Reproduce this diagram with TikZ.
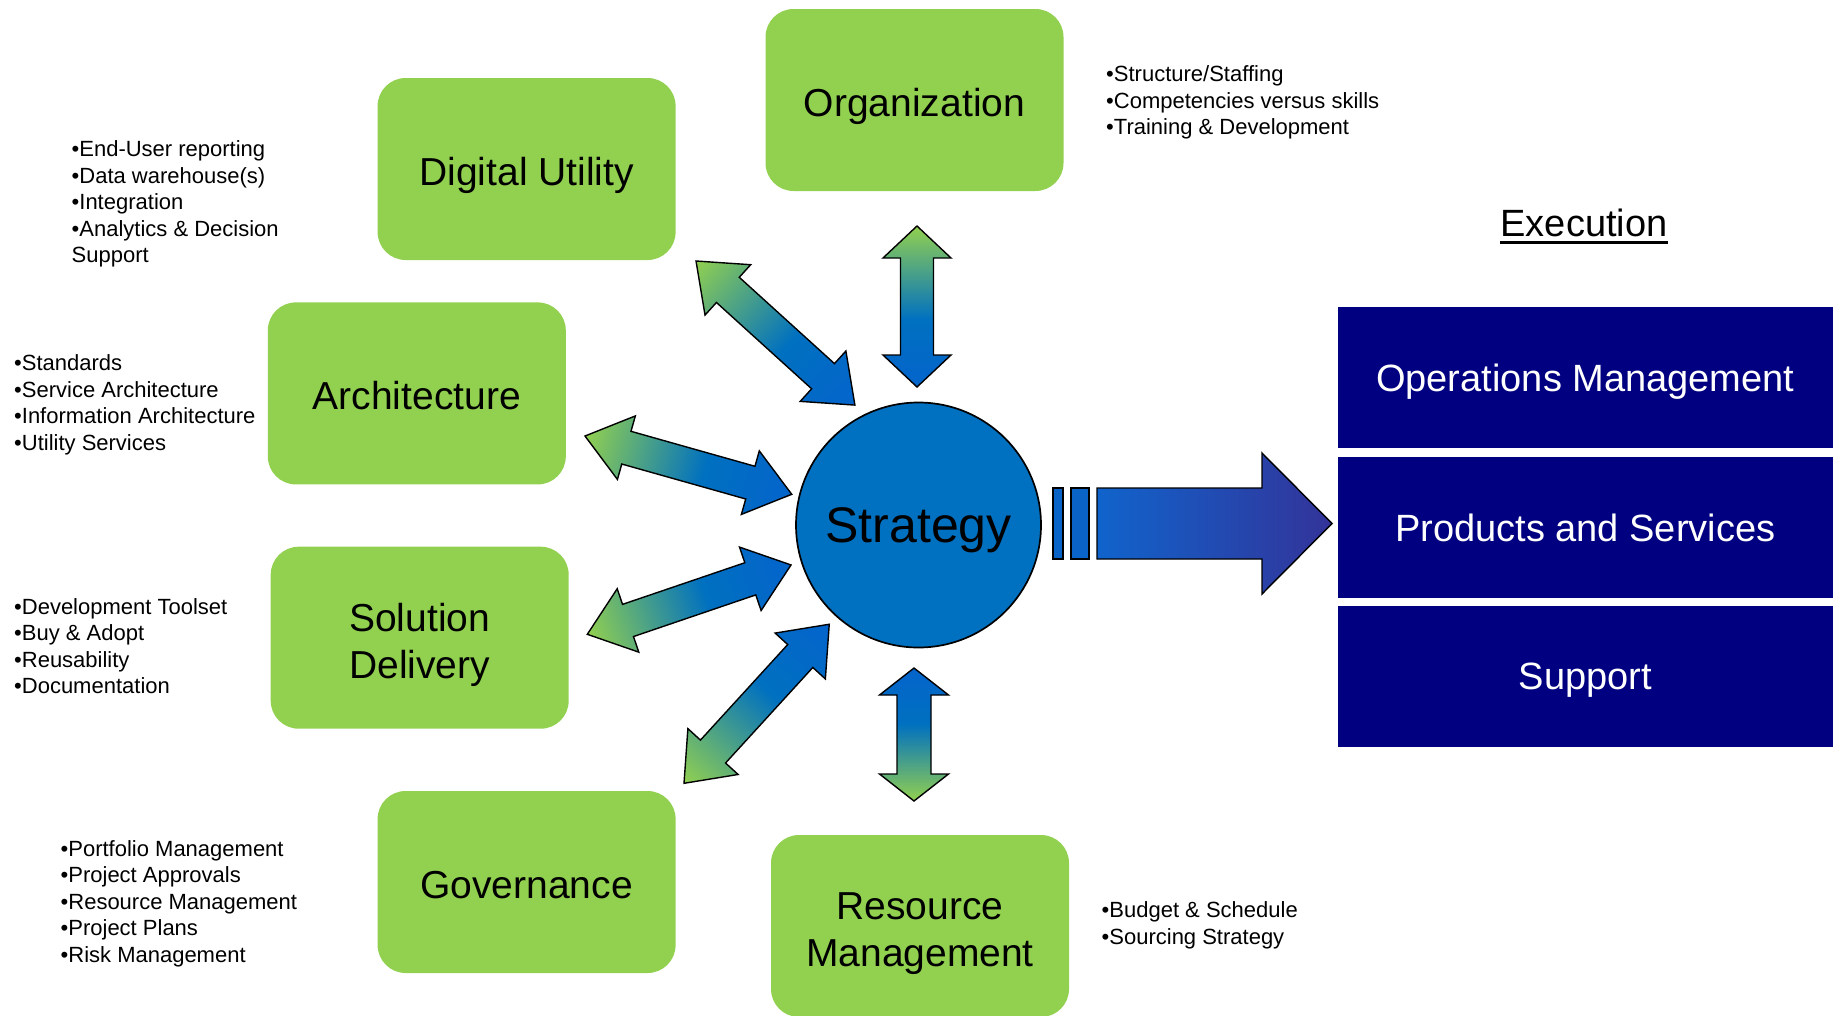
\documentclass[tikz,border=0pt]{standalone}
\usepackage{fontspec}
\setmainfont{Liberation Sans}
\usetikzlibrary{shapes.geometric}
\definecolor{boxgreen}{RGB}{146,208,80}
\definecolor{arrblue}{RGB}{4,100,204}
\definecolor{circblue}{RGB}{0,112,192}
\definecolor{execnavy}{RGB}{0,0,128}
\definecolor{bigL}{RGB}{16,100,204}
\definecolor{bigR}{RGB}{51,51,153}
\definecolor{barblue}{RGB}{10,100,200}
\pgfdeclarehorizontalshading{gbshade}{100bp}{color(0bp)=(boxgreen); color(25bp)=(boxgreen); color(54bp)=(circblue); color(75bp)=(arrblue); color(100bp)=(arrblue)}
\tikzset{
  greenbox/.style={rounded corners=28pt, fill=boxgreen, minimum width=298pt, minimum height=182pt, inner sep=0pt, align=center, font=\fontsize{39}{46.7}\selectfont},
  onebox/.style={greenbox, text height=32pt, text depth=0pt},
  execbox/.style={fill=execnavy, minimum width=495.5pt, minimum height=141pt, inner sep=0pt, text=white, font=\fontsize{38}{45}\selectfont, text depth=0pt},
  bullets/.style={anchor=north west, inner sep=0pt, align=left, font=\fontsize{22}{26.5}\selectfont},
  dblarr/.style={shading=gbshade, draw=black, line width=1.4pt},
}
\newcommand{\dblarrow}[7]{%
  \begin{scope}[transform canvas={shift={(#1,#2)},rotate=#3}]
    \shade[dblarr] (0,0) -- (#5,#6) -- (#5,#7) -- ({#4-#5},#7) -- ({#4-#5},#6) -- (#4,0) -- ({#4-#5},-#6) -- ({#4-#5},-#7) -- (#5,-#7) -- (#5,-#6) -- cycle;
  \end{scope}}
\begin{document}
\begin{tikzpicture}[x=1pt,y=-1pt]
\useasboundingbox (0,0) rectangle (1833,1015);

% green boxes
\node[onebox] (org) at (914.5,100) {Organization};
\node[onebox] (dig) at (526.6,169) {Digital Utility};
\node[onebox] (arch) at (416.8,393.4) {Architecture};
\node[greenbox] (sol) at (419.7,637.7) {\rule{0pt}{42pt}Solution\\Delivery};
\node[onebox] (gov) at (526.6,882) {Governance};
\node[greenbox] (res) at (920,926) {\rule{0pt}{42pt}Resource\\Management};

% bullet lists
\node[bullets] (orgl) at (1106,62.9) {\strut•Structure/Staffing\\•Competencies versus skills\\•Training \& Development};
\node[bullets] (digl) at (71.5,137.9) {\strut•End-User reporting\\•Data warehouse(s)\\•Integration\\•Analytics \& Decision\\Support};
\node[bullets] (archl) at (14,351.9) {\strut•Standards\\•Service Architecture\\•Information Architecture\\•Utility Services};
\node[bullets] (soll) at (14,595.4) {\strut•Development Toolset\\•Buy \& Adopt\\•Reusability\\•Documentation};
\node[bullets] (govl) at (60.5,837.4) {\strut•Portfolio Management\\•Project Approvals\\•Resource Management\\•Project Plans\\•Risk Management};
\node[bullets] (resl) at (1101.5,898.9) {\strut•Budget \& Schedule\\•Sourcing Strategy};

% double arrows
\dblarrow{917}{226}{-90}{161}{32}{34}{16.5}
\dblarrow{914}{801}{90}{133}{27}{34.5}{17}
\dblarrow{696}{261}{-42.2}{214.5}{43}{34}{17}
\dblarrow{585}{436}{-15.75}{214.8}{43}{33}{17}
\dblarrow{587.3}{634.3}{18.8}{215.2}{43}{33.5}{17}
\dblarrow{684}{783.3}{47.6}{215.4}{43}{34}{17}

% strategy
\node[circle, fill=circblue, draw=black, line width=1.7pt, minimum size=245pt, inner sep=0pt, font=\fontsize{50}{60}\selectfont, text depth=0pt] (strat) at (918.5,525) {Strategy};

% big arrow
\fill[barblue, draw=black, line width=1.2pt] (1053,488) rectangle (1063,559);
\fill[barblue, draw=black, line width=1.2pt] (1071,488) rectangle (1089,559);
\shade[left color=bigL, right color=bigR, draw=black, line width=1.4pt] (1097,488) -- (1262,488) -- (1262,453) -- (1332,523.5) -- (1262,594) -- (1262,559) -- (1097,559) -- cycle;

% execution
\node[font=\fontsize{38}{45}\selectfont, inner sep=0pt, anchor=base] (exec) at (1584,236.7) {Execution};
\draw[line width=2.7pt] ([yshift=-5.5pt]exec.base west) -- ([yshift=-5.5pt]exec.base east);
\node[execbox] (ops) at (1585.25,377.5) {Operations Management};
\node[execbox] (prod) at (1585.25,527.5) {Products and Services};
\node[execbox] (sup) at (1585.25,676.5) {Support};
\end{tikzpicture}
\end{document}
